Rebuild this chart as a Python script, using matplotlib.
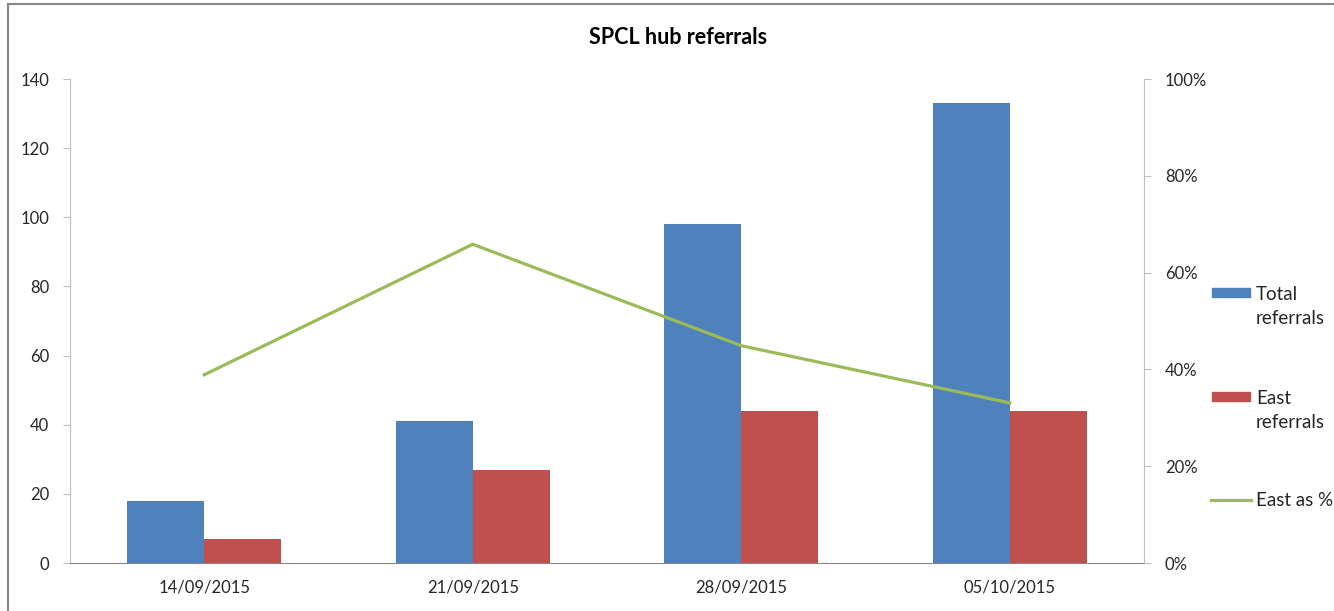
import matplotlib.pyplot as plt
import numpy as np
from matplotlib.lines import Line2D
from matplotlib.patches import Rectangle
from matplotlib.ticker import FuncFormatter

plt.rcParams["font.family"] = ["Lato", "DejaVu Sans"]

# data
weeks = ["14/09/2015", "21/09/2015", "28/09/2015", "05/10/2015"]
total_referrals = [18, 41, 98, 133]
east_referrals = [7, 27, 44, 44]
east_pct = [7 / 18, 27 / 41, 44 / 98, 44 / 133]

BLUE = "#4F81BD"
RED = "#C0504D"
GREEN = "#9BBB59"
AXIS_GREY = "#BFBFBF"
TXT = "#262626"

W, H = 1334, 611
fig = plt.figure(figsize=(W / 100, H / 100), dpi=100)

# plot area in pixels: left 70, right 1144, top 79, bottom 563
ax = fig.add_axes([70 / W, 1 - 563 / H, (1144 - 70) / W, (563 - 79) / H])
x = np.arange(len(weeks))
bw = 0.287
ax.bar(x - bw / 2, total_referrals, bw, color=BLUE, zorder=2)
ax.bar(x + bw / 2, east_referrals, bw, color=RED, zorder=2)
ax.set_xlim(-0.5, len(weeks) - 0.5)
ax.set_ylim(0, 140)
ax.set_yticks(range(0, 141, 20))
ax.set_xticks(x)
ax.set_xticklabels(weeks)

ax2 = ax.twinx()
ax2.plot(x, east_pct, color=GREEN, lw=2.3, zorder=3)
ax2.set_ylim(0, 1)
ax2.set_yticks(np.arange(0, 1.01, 0.2))
ax2.yaxis.set_major_formatter(FuncFormatter(lambda v, _: f"{v * 100:.0f}%"))

for a in (ax, ax2):
    a.spines["top"].set_visible(False)
    a.spines["left"].set_color(AXIS_GREY)
    a.spines["right"].set_color(AXIS_GREY)
    a.spines["bottom"].set_color("#868686")
ax.spines["right"].set_visible(False)
ax2.spines["left"].set_visible(False)
ax2.spines["bottom"].set_visible(False)

ax.tick_params(axis="y", length=5, color=AXIS_GREY, labelsize=12, labelcolor=TXT, pad=10)
ax.tick_params(axis="x", length=0, labelsize=12, labelcolor=TXT, pad=12)
ax2.tick_params(axis="y", length=5, color=AXIS_GREY, labelsize=12, labelcolor=TXT, pad=10)

fig.text(678 / W, 1 - 37 / H, "SPCL hub referrals", ha="center", va="center",
         fontsize=15.5, fontweight="bold", color="black")

# outer chart border (right and bottom cut off in the reference)
fig.add_artist(Line2D([8 / W, 8 / W], [0, 1 - 4 / H], color="#868686", lw=1.5,
                      transform=fig.transFigure))
fig.add_artist(Line2D([8 / W, 1], [1 - 4 / H, 1 - 4 / H], color="#868686", lw=1.5,
                      transform=fig.transFigure))


# legend drawn by hand to match the spacing
def fx(px):
    return px / W


def fy(py):
    return 1 - py / H


LEG_FS = 13.5
fig.add_artist(Rectangle((fx(1212), fy(297)), 38 / W, 9 / H, color=BLUE,
                         transform=fig.transFigure))
fig.text(fx(1256), fy(306), "Total\nreferrals", ha="left", va="center", fontsize=LEG_FS,
         color=TXT, linespacing=1.5)
fig.add_artist(Rectangle((fx(1212), fy(401)), 38 / W, 9 / H, color=RED,
                         transform=fig.transFigure))
fig.text(fx(1256), fy(410), "East\nreferrals", ha="left", va="center", fontsize=LEG_FS,
         color=TXT, linespacing=1.5)
fig.add_artist(Line2D([fx(1211), fx(1251)], [fy(500), fy(500)], color=GREEN, lw=2.3,
                      transform=fig.transFigure))
fig.text(fx(1256), fy(500), "East as %", ha="left", va="center", fontsize=LEG_FS, color=TXT)

fig.savefig("out.png", dpi=100)
